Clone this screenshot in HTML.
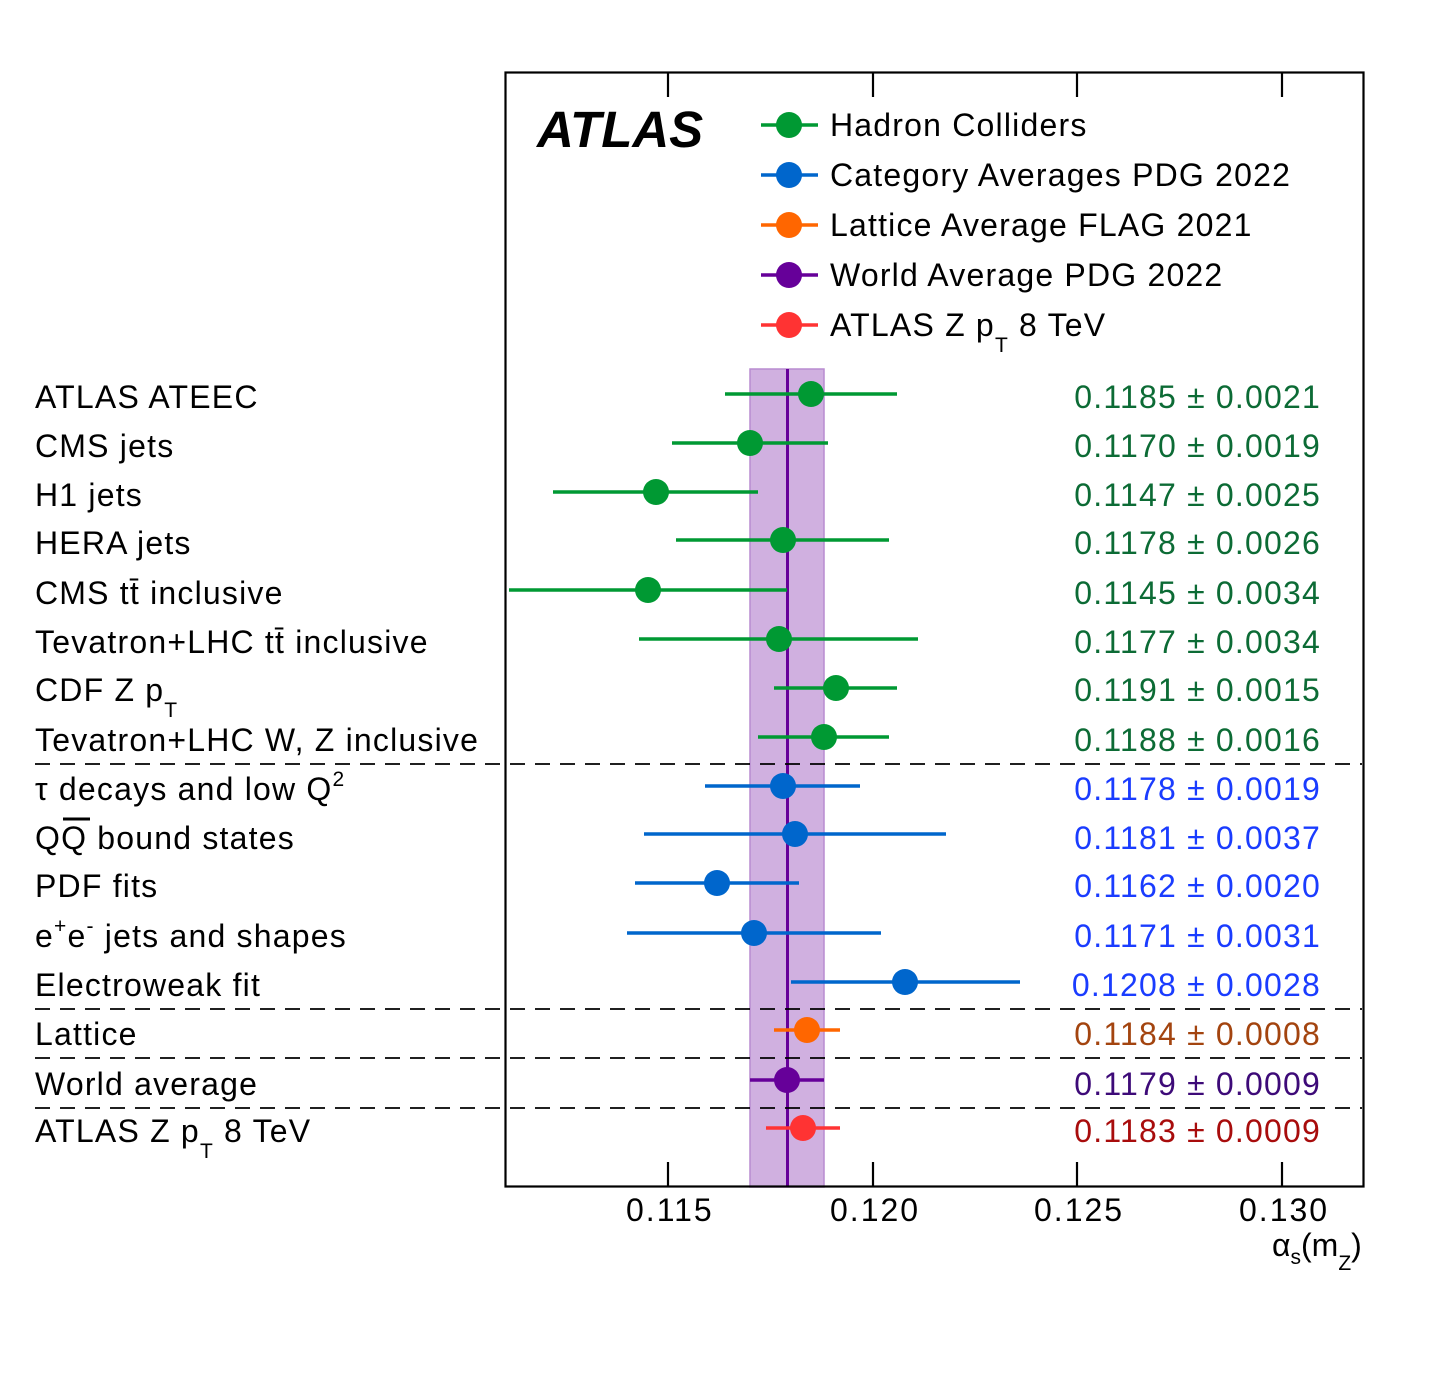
<!DOCTYPE html>
<html><head><meta charset="utf-8"><style>
html,body{margin:0;padding:0;background:#fff;}
svg{display:block;font-family:"Liberation Sans",Arial,sans-serif;}
.t{font-size:32px;letter-spacing:1.2px;}
</style></head><body>
<svg width="1440" height="1399" viewBox="0 0 1440 1399" xmlns="http://www.w3.org/2000/svg">
<rect width="1440" height="1399" fill="#fff"/>
<rect x="750" y="369" width="74" height="818" fill="#d0b0e0" stroke="#b88cd0" stroke-width="1.5"/>
<line x1="787.5" y1="369" x2="787.5" y2="1187" stroke="#660099" stroke-width="3"/>
<g stroke="#000" stroke-width="1.8" stroke-dasharray="15,10">
<line x1="35" y1="764" x2="1362" y2="764"/>
<line x1="35" y1="1009" x2="1362" y2="1009"/>
<line x1="35" y1="1058" x2="1362" y2="1058"/>
<line x1="35" y1="1108" x2="1362" y2="1108"/>
</g>
<rect x="505.5" y="72.5" width="858" height="1114" fill="none" stroke="#000" stroke-width="2.2"/>
<g stroke="#000" stroke-width="2.2">
<line x1="668" y1="72" x2="668" y2="97"/><line x1="873" y1="72" x2="873" y2="97"/>
<line x1="1077" y1="72" x2="1077" y2="97"/><line x1="1282" y1="72" x2="1282" y2="97"/>
<line x1="668" y1="1187" x2="668" y2="1162"/><line x1="873" y1="1187" x2="873" y2="1162"/>
<line x1="1077" y1="1187" x2="1077" y2="1162"/><line x1="1282" y1="1187" x2="1282" y2="1162"/>
</g>
<g font-size="32" letter-spacing="2" fill="#000">
<text x="626" y="1221">0.115</text><text x="830" y="1221">0.120</text>
<text x="1034" y="1221">0.125</text><text x="1239" y="1221">0.130</text>
</g>
<text x="1272" y="1256" font-size="32">α<tspan font-size="21" dy="8">s</tspan><tspan dy="-8">(m</tspan><tspan font-size="21" dy="14">Z</tspan><tspan dy="-14">)</tspan></text>
<text x="537" y="147" font-size="51" font-weight="bold" font-style="italic">ATLAS</text>
<g stroke-width="3.5">
<line x1="761" y1="125" x2="818" y2="125" stroke="#009933"/><circle cx="789" cy="125" r="13" fill="#009933"/>
<line x1="761" y1="175" x2="818" y2="175" stroke="#0066cc"/><circle cx="789" cy="175" r="13" fill="#0066cc"/>
<line x1="761" y1="225" x2="818" y2="225" stroke="#ff6600"/><circle cx="789" cy="225" r="13" fill="#ff6600"/>
<line x1="761" y1="275" x2="818" y2="275" stroke="#660099"/><circle cx="789" cy="275" r="13" fill="#660099"/>
<line x1="761" y1="325" x2="818" y2="325" stroke="#ff3333"/><circle cx="789" cy="325" r="13" fill="#ff3333"/>
</g>
<g class="t" fill="#000">
<text x="830" y="136">Hadron Colliders</text>
<text x="830" y="186">Category Averages PDG 2022</text>
<text x="830" y="236">Lattice Average FLAG 2021</text>
<text x="830" y="286">World Average PDG 2022</text>
<text x="830" y="336">ATLAS Z p<tspan font-size="21" dy="16">T</tspan><tspan dy="-16"> 8 TeV</tspan></text>
</g>
<g stroke-width="3.5">
<g stroke="#009933" fill="#009933">
<line x1="725" y1="394" x2="897" y2="394"/><circle cx="811" cy="394" r="13" stroke="none"/>
<line x1="672" y1="443" x2="828" y2="443"/><circle cx="750" cy="443" r="13" stroke="none"/>
<line x1="553" y1="492" x2="758" y2="492"/><circle cx="656" cy="492" r="13" stroke="none"/>
<line x1="676" y1="540" x2="889" y2="540"/><circle cx="783" cy="540" r="13" stroke="none"/>
<line x1="509" y1="590" x2="787" y2="590"/><circle cx="648" cy="590" r="13" stroke="none"/>
<line x1="639" y1="639" x2="918" y2="639"/><circle cx="779" cy="639" r="13" stroke="none"/>
<line x1="774" y1="688" x2="897" y2="688"/><circle cx="836" cy="688" r="13" stroke="none"/>
<line x1="758" y1="737" x2="889" y2="737"/><circle cx="824" cy="737" r="13" stroke="none"/>
</g>
<g stroke="#0066cc" fill="#0066cc">
<line x1="705" y1="786" x2="860" y2="786"/><circle cx="783" cy="786" r="13" stroke="none"/>
<line x1="644" y1="834" x2="946" y2="834"/><circle cx="795" cy="834" r="13" stroke="none"/>
<line x1="635" y1="883" x2="799" y2="883"/><circle cx="717" cy="883" r="13" stroke="none"/>
<line x1="627" y1="933" x2="881" y2="933"/><circle cx="754" cy="933" r="13" stroke="none"/>
<line x1="791" y1="982" x2="1020" y2="982"/><circle cx="905" cy="982" r="13" stroke="none"/>
</g>
<line x1="774" y1="1030" x2="840" y2="1030" stroke="#ff6600"/><circle cx="807" cy="1030" r="13" fill="#ff6600"/>
<line x1="750" y1="1080" x2="824" y2="1080" stroke="#660099"/><circle cx="787" cy="1080" r="13" fill="#660099"/>
<line x1="766" y1="1128" x2="840" y2="1128" stroke="#ff3333"/><circle cx="803" cy="1128" r="13" fill="#ff3333"/>
</g>
<g class="t" fill="#000">
<text x="35" y="408">ATLAS ATEEC</text>
<text x="35" y="457">CMS jets</text>
<text x="35" y="506">H1 jets</text>
<text x="35" y="554">HERA jets</text>
<text x="35" y="604">CMS tt̄ inclusive</text>
<text x="35" y="653">Tevatron+LHC tt̄ inclusive</text>
<text x="35" y="701">CDF Z p<tspan font-size="21" dy="16">T</tspan></text>
<text x="35" y="751">Tevatron+LHC W, Z inclusive</text>
<text x="35" y="800">τ decays and low Q<tspan font-size="21" dy="-14">2</tspan></text>
<text x="35" y="849">QQ bound states</text>
<text x="35" y="897">PDF fits</text>
<text x="35" y="947">e<tspan font-size="21" dy="-14">+</tspan><tspan dy="14">e</tspan><tspan font-size="21" dy="-14">-</tspan><tspan dy="14"> jets and shapes</tspan></text>
<text x="35" y="996">Electroweak fit</text>
<text x="35" y="1045">Lattice</text>
<text x="35" y="1095">World average</text>
<text x="35" y="1142">ATLAS Z p<tspan font-size="21" dy="16">T</tspan><tspan dy="-16"> 8 TeV</tspan></text>
</g>
<line x1="63" y1="819" x2="90" y2="819" stroke="#000" stroke-width="3"/>
<g class="t" text-anchor="end">
<g fill="#0c6b35">
<text x="1321" y="408">0.1185 ± 0.0021</text>
<text x="1321" y="457">0.1170 ± 0.0019</text>
<text x="1321" y="506">0.1147 ± 0.0025</text>
<text x="1321" y="554">0.1178 ± 0.0026</text>
<text x="1321" y="604">0.1145 ± 0.0034</text>
<text x="1321" y="653">0.1177 ± 0.0034</text>
<text x="1321" y="701">0.1191 ± 0.0015</text>
<text x="1321" y="751">0.1188 ± 0.0016</text>
</g>
<g fill="#1a3cff">
<text x="1321" y="800">0.1178 ± 0.0019</text>
<text x="1321" y="849">0.1181 ± 0.0037</text>
<text x="1321" y="897">0.1162 ± 0.0020</text>
<text x="1321" y="947">0.1171 ± 0.0031</text>
<text x="1321" y="996">0.1208 ± 0.0028</text>
</g>
<text x="1321" y="1045" fill="#a3440f">0.1184 ± 0.0008</text>
<text x="1321" y="1095" fill="#3d0a78">0.1179 ± 0.0009</text>
<text x="1321" y="1142" fill="#a80c0c">0.1183 ± 0.0009</text>
</g>
</svg>
</body></html>
